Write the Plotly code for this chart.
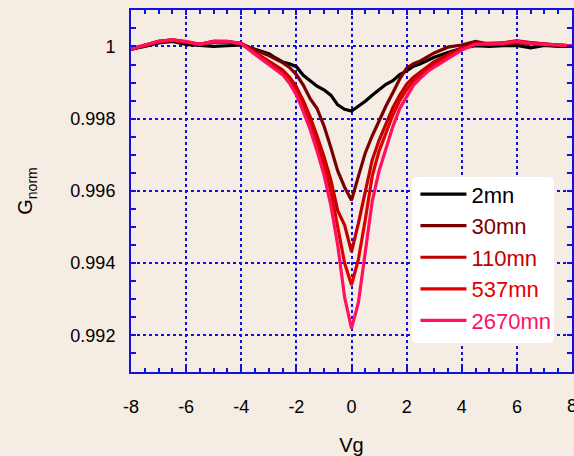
import plotly.graph_objects as go

V = [-8, -7.5, -7, -6.5, -6, -5.5, -5, -4.5, -4, -3.5,
     -3, -2.75, -2.5, -2.25, -2, -1.75, -1.5, -1.25, -1, -0.75, -0.5, -0.25,
     0, 0.25, 0.5, 0.75, 1, 1.25, 1.5, 1.75, 2, 2.25, 2.5, 2.75, 3,
     3.5, 4, 4.5, 5, 5.5, 6, 6.5, 7, 7.5, 8]

g_2mn = [0.99993, 1.00000, 1.00010, 1.00014, 1.00006, 1.00002, 1.00000, 1.00002, 1.00004, 0.99992,
         0.99980, 0.99968, 0.99957, 0.99952, 0.99944, 0.99920, 0.99905, 0.99890, 0.99880, 0.99865, 0.99838, 0.99826,
         0.99821, 0.99835, 0.99848, 0.99865, 0.99880, 0.99895, 0.99905, 0.99922, 0.99932, 0.99945, 0.99952, 0.99962, 0.99970,
         0.99983, 0.99995, 1.00002, 1.00000, 1.00002, 1.00003, 0.99996, 1.00003, 1.00000, 1.00000]

g_30mn = [0.99992, 1.00002, 1.00012, 1.00016, 1.00010, 1.00006, 1.00012, 1.00012, 1.00008, 0.99990,
          0.99975, 0.99966, 0.99955, 0.99942, 0.99922, 0.99893, 0.99855, 0.99828, 0.99780, 0.99720, 0.99655, 0.99610,
          0.99574, 0.99640, 0.99705, 0.99752, 0.99795, 0.99835, 0.99872, 0.99910, 0.99940, 0.99952, 0.99960, 0.99970, 0.99982,
          0.99998, 1.00004, 1.00014, 1.00006, 1.00006, 1.00010, 1.00008, 1.00004, 1.00004, 1.00002]

g_110mn = [0.99992, 1.00003, 1.00014, 1.00018, 1.00012, 1.00006, 1.00014, 1.00013, 1.00008, 0.99984,
           0.99960, 0.99948, 0.99935, 0.99915, 0.99888, 0.99850, 0.99805, 0.99752, 0.99695, 0.99630, 0.99545, 0.99505,
           0.99431, 0.99510, 0.99600, 0.99685, 0.99740, 0.99785, 0.99830, 0.99865, 0.99895, 0.99915, 0.99930, 0.99945, 0.99958,
           0.99978, 0.99996, 1.00008, 1.00008, 1.00010, 1.00014, 1.00010, 1.00006, 1.00004, 1.00002]

g_537mn = [0.99993, 1.00003, 1.00014, 1.00018, 1.00013, 1.00006, 1.00014, 1.00014, 1.00008, 0.99981,
           0.99955, 0.99942, 0.99928, 0.99906, 0.99876, 0.99835, 0.99787, 0.99732, 0.99672, 0.99600, 0.99500, 0.99400,
           0.99339, 0.99410, 0.99520, 0.99640, 0.99710, 0.99760, 0.99810, 0.99850, 0.99880, 0.99905, 0.99922, 0.99938, 0.99950,
           0.99972, 0.99993, 1.00007, 1.00007, 1.00010, 1.00016, 1.00010, 1.00006, 1.00004, 1.00002]

g_2670mn = [0.99993, 1.00004, 1.00014, 1.00018, 1.00014, 1.00006, 1.00014, 1.00014, 1.00008, 0.99978,
            0.99950, 0.99935, 0.99922, 0.99898, 0.99866, 0.99820, 0.99770, 0.99710, 0.99645, 0.99560, 0.99450, 0.99305,
            0.99219, 0.99290, 0.99430, 0.99570, 0.99655, 0.99715, 0.99778, 0.99828, 0.99862, 0.99893, 0.99912, 0.99930, 0.99943,
            0.99966, 0.99990, 1.00006, 1.00006, 1.00008, 1.00014, 1.00008, 1.00006, 1.00004, 1.00002]

names = ["2mn", "30mn", "110mn", "537mn", "2670mn"]
series = [g_2mn, g_30mn, g_110mn, g_537mn, g_2670mn]
colors = ["#000000", "#7a0000", "#c00000", "#e00000", "#ff1060"]

x_ticks = [-8, -6, -4, -2, 0, 2, 4, 6]
x_tick_text = ["-8", "-6", "-4", "-2", "0", "2", "4", "6"]
x_edge_tick = 8
y_ticks = [0.992, 0.994, 0.996, 0.998, 1.0]
y_tick_text = ["0.992", "0.994", "0.996", "0.998", "1"]

BG = "#f5ece3"
AX = "#1010e0"
FONT = "Liberation Sans, Arial"

fig = go.Figure()
for nm, ys, c in zip(names, series, colors):
    fig.add_trace(go.Scatter(
        x=V, y=ys, mode="lines", line=dict(color=c, width=3.2),
        name=f"<span style='color:{c}'>{nm}</span>", legendgroup=nm,
    ))

axis_common = dict(
    showline=True, linecolor=AX, linewidth=2, mirror="ticks",
    ticks="inside", tickcolor=AX, ticklen=5, tickwidth=1.5,
    showgrid=True, gridcolor=AX, griddash="dot", gridwidth=1.5,
    zeroline=False,
    tickfont=dict(family=FONT, size=18, color="black"),
)

# rounded white legend box (paper coordinates); plot area is 443 x 362 px
PW, PH = 443.0, 362.0
x0, x1 = (413 - 131) / PW, (556 - 131) / PW
y1, y0 = 1 - (177 - 10) / PH, 1 - (343 - 10) / PH
rx, ry = 6 / PW, 6 / PH
path = (f"M {x0+rx},{y0} L {x1-rx},{y0} Q {x1},{y0} {x1},{y0+ry} "
        f"L {x1},{y1-ry} Q {x1},{y1} {x1-rx},{y1} L {x0+rx},{y1} "
        f"Q {x0},{y1} {x0},{y1-ry} L {x0},{y0+ry} Q {x0},{y0} {x0+rx},{y0} Z")

fig.update_layout(
    width=574, height=456,
    margin=dict(l=131, r=0, t=10, b=84),
    paper_bgcolor=BG, plot_bgcolor=BG,
    font=dict(family=FONT, size=18, color="black"),
    xaxis=dict(
        range=[-8, 8], tickvals=x_ticks, ticktext=x_tick_text, ticklabelstandoff=17,
        minor=dict(dtick=0.5, ticks="inside", ticklen=4, tickcolor=AX, showgrid=False),
        title=dict(text="Vg", font=dict(size=20), standoff=23),
        **axis_common,
    ),
    yaxis=dict(
        range=[0.99098, 1.00101], tickvals=y_ticks, ticktext=y_tick_text, ticklabelstandoff=10,
        minor=dict(dtick=0.0005, ticks="inside", ticklen=5, tickcolor=AX, showgrid=False),
        title=dict(text="G<sub>norm</sub>", font=dict(size=20), standoff=32),
        **axis_common,
    ),
    shapes=[dict(type="path", xref="paper", yref="paper", path=path,
                 fillcolor="white", line=dict(width=0), layer="above")],
    annotations=[dict(x=x_edge_tick, xref="x", y=-0.093, yref="paper", text="8",
                      showarrow=False, xanchor="center", yanchor="middle",
                      font=dict(family=FONT, size=18, color="black"))],
    legend=dict(
        x=0.645, y=0.549, xanchor="left", yanchor="top",
        bgcolor="rgba(0,0,0,0)", borderwidth=0,
        font=dict(family=FONT, size=22),
        tracegroupgap=0, itemwidth=46,
    ),
    showlegend=True,
)

fig.write_html("out.html")
